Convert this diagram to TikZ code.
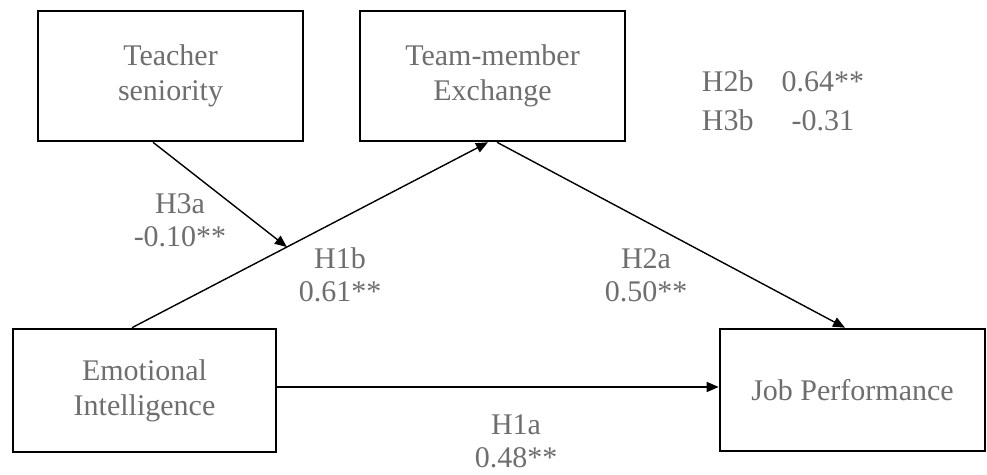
\documentclass[tikz,border=0pt]{standalone}
\usepackage{fontspec}
\setmainfont{Liberation Serif}
\usetikzlibrary{arrows.meta}

\definecolor{txtgray}{HTML}{6E6E6E}

\tikzset{
  box/.style={draw=black, line width=1.3pt, align=center, text=txtgray,
    font=\fontsize{15}{17.5}\selectfont},
  arrow/.style={line width=0.7pt, -{Triangle[length=6pt,width=5pt]}},
  lbl/.style={align=center, text=txtgray, font=\fontsize{15}{16.5}\selectfont}
}

\begin{document}
\begin{tikzpicture}[x=0.5pt, y=0.5pt]

  \useasboundingbox (0,0) rectangle (987,475);

  % Boxes
  \node[box, minimum width=132.5pt, minimum height=65pt] (TS) at (170.5,399) {Teacher\\seniority};
  \node[box, minimum width=132.5pt, minimum height=65pt] (TMX) at (492.5,399) {Team-member\\Exchange};
  \node[box, minimum width=131.5pt, minimum height=61.5pt] (EI) at (144.5,84.5) {Emotional\\Intelligence};
  \node[box, minimum width=132.5pt, minimum height=61pt] (JP) at (852.5,85) {Job Performance};

  % Paths
  \draw[arrow] ([xshift=-6.25pt]EI.north) -- coordinate[pos=0.435] (mod) ([xshift=-2.25pt]TMX.south);
  \draw[arrow] ([xshift=-8.75pt]TS.south) -- (mod);
  \draw[arrow] ([xshift=2.25pt]TMX.south) -- ([xshift=-3.75pt]JP.north);
  \draw[arrow] (EI.east |- 0,88) -- (JP.west |- 0,88);

  % Coefficients
  \node[lbl] (h3a) at (180,255) {H3a\\-0.10**};
  \node[lbl] (h1b) at (340,200) {H1b\\0.61**};
  \node[lbl] (h2a) at (646,200) {H2a\\0.50**};
  \node[lbl] (h1a) at (516,34) {H1a\\0.48**};

  % Indirect effects
  \node[lbl] (ind) at (783,372) {%
    \renewcommand{\arraystretch}{1.2}%
    \begin{tabular}{@{}l@{\hspace{14pt}}c@{}}
      H2b & 0.64** \\
      H3b & -0.31
    \end{tabular}};

\end{tikzpicture}
\end{document}
